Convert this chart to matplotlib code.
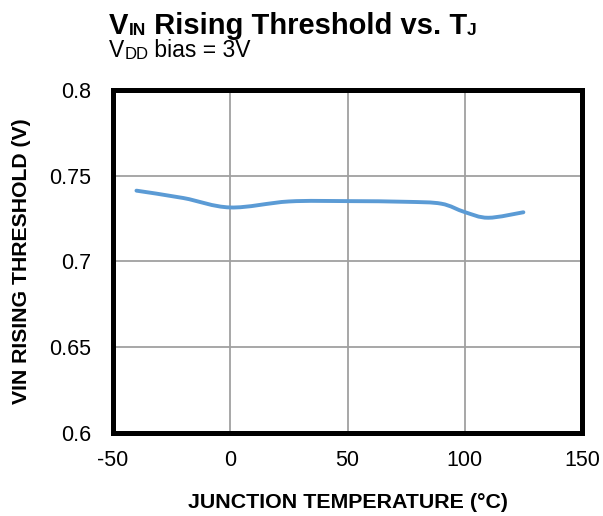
import matplotlib
matplotlib.use("Agg")
import matplotlib.pyplot as plt
from matplotlib.path import Path
from matplotlib.patches import PathPatch
import numpy as np

plt.rcParams['font.family'] = ['Liberation Sans', 'DejaVu Sans']
plt.rcParams['axes.unicode_minus'] = False

temps = [-40, -20, 0, 25, 50, 75, 90, 100, 110, 125]
vin_rise = [0.7413, 0.7370, 0.7315, 0.7350, 0.7352, 0.7348, 0.7337, 0.7288, 0.7255, 0.7287]

x_ticks = [-50, 0, 50, 100, 150]
y_ticks = [0.6, 0.65, 0.7, 0.75, 0.8]
y_tick_labels = ["0.6", "0.65", "0.7", "0.75", "0.8"]

fig = plt.figure(figsize=(6.03, 5.16), dpi=100)
ax = fig.add_axes([0.1874, 0.1609, 0.7778, 0.6647])
ax.set_xlim(-50, 150)
ax.set_ylim(0.6, 0.8)
ax.set_xticks(x_ticks)
ax.set_yticks(y_ticks)
ax.set_yticklabels(y_tick_labels)
ax.grid(True, color='#a0a0a0', linewidth=1.3)
ax.set_axisbelow(True)
for s in ax.spines.values():
    s.set_linewidth(3.6)
    s.set_color('black')
ax.tick_params(axis='both', length=0, labelsize=15.5)
ax.tick_params(axis='y', pad=16)
ax.tick_params(axis='x', pad=12)

# smoothed line (Catmull-Rom -> cubic Bezier), like Excel smoothing
x = np.array(temps, float)
y = np.array(vin_rise, float)
verts = [(x[0], y[0])]
codes = [Path.MOVETO]
n = len(x)
for i in range(n - 1):
    p0 = (x[i - 1], y[i - 1]) if i > 0 else (x[i], y[i])
    p1 = (x[i], y[i])
    p2 = (x[i + 1], y[i + 1])
    p3 = (x[i + 2], y[i + 2]) if i + 2 < n else (x[i + 1], y[i + 1])
    c1 = (p1[0] + (p2[0] - p0[0]) / 6, p1[1] + (p2[1] - p0[1]) / 6)
    c2 = (p2[0] - (p3[0] - p1[0]) / 6, p2[1] - (p3[1] - p1[1]) / 6)
    verts += [c1, c2, p2]
    codes += [Path.CURVE4] * 3
patch = PathPatch(Path(verts, codes), facecolor='none', edgecolor='#5b9bd5',
                  linewidth=2.8, capstyle='round', zorder=3)
ax.add_patch(patch)

ax.set_xlabel("JUNCTION TEMPERATURE (°C)", fontsize=15.4, fontweight='bold', labelpad=16)
ax.set_ylabel("VIN RISING THRESHOLD (V)", fontsize=15.3, fontweight='bold', labelpad=13)

renderer = fig.canvas.get_renderer()

def run(parts, x0, y0):
    xx = x0
    for s, size, weight, dy in parts:
        t = fig.text(xx, y0 + dy, s, fontsize=size, fontweight=weight, va='baseline')
        bb = t.get_window_extent(renderer=renderer)
        xx += bb.width / fig.bbox.width

run([("V", 21, 'bold', 0), ("IN", 12.5, 'bold', -0.003), (" Rising Threshold vs. T", 21, 'bold', 0),
     ("J", 12.5, 'bold', -0.003)], 0.181, 0.935)
run([("V", 16.5, 'normal', 0), ("DD", 12, 'normal', -0.004), (" bias = 3V", 16.5, 'normal', 0)],
    0.181, 0.889)

fig.savefig("out.png", dpi=100)
